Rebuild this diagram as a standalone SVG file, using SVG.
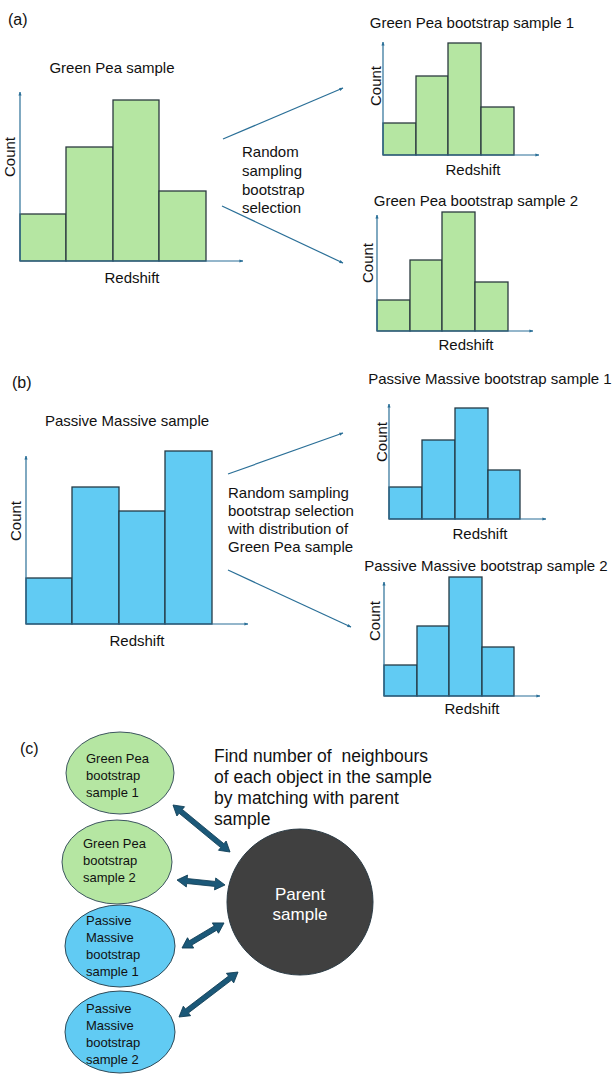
<svg xmlns="http://www.w3.org/2000/svg" width="616" height="1075" viewBox="0 0 616 1075">
<defs>
<style>
text{font-family:"Liberation Sans",Arial,sans-serif;fill:#111}
.t15{font-size:15px}
.t13{font-size:13px}
.lbl{font-size:16px}
.mid{text-anchor:middle}
.gbar{fill:#B5E6A2;stroke:#2b3a3f;stroke-width:1.3}
.bbar{fill:#61CBF3;stroke:#243a46;stroke-width:1.3}
.axis{stroke:#2a6f97;stroke-width:1.2;fill:none;marker-end:url(#ah)}
.conn{stroke:#2a6f97;stroke-width:1.2;fill:none;marker-end:url(#ah)}
.gel{fill:#B5E6A2;stroke:#3d5560;stroke-width:1}
.bel{fill:#61CBF3;stroke:#2f4a58;stroke-width:1}
.darr{fill:#1b5878;stroke:#0f3d55;stroke-width:0.8}
</style>
<marker id="ah" viewBox="0 0 10 10" refX="9" refY="5" markerWidth="4" markerHeight="4" orient="auto" markerUnits="userSpaceOnUse">
<path d="M0,1 L10,5 L0,9 Z" fill="#2a6f97"/>
</marker>
</defs>

<text class="lbl" x="8" y="25">(a)</text>
<text class="lbl" x="12" y="388">(b)</text>
<text class="lbl" x="20" y="754">(c)</text>

<g id="gp-sample">
<text class="t15 mid" x="112" y="73">Green Pea sample</text>
<rect class="gbar" x="20" y="214" width="46" height="47"/>
<rect class="gbar" x="66" y="147" width="47" height="114"/>
<rect class="gbar" x="113" y="100" width="46" height="161"/>
<rect class="gbar" x="159" y="191" width="47" height="70"/>
<path class="axis" d="M20,261 V92"/>
<path class="axis" d="M20,261 H243"/>
<text class="t15 mid" transform="translate(15,157) rotate(-90)">Count</text>
<text class="t15 mid" x="132" y="283">Redshift</text>
</g>

<g id="gp-boot1">
<text class="t15 mid" x="472" y="28">Green Pea bootstrap sample 1</text>
<rect class="gbar" x="383" y="123" width="33" height="32"/>
<rect class="gbar" x="416" y="76" width="32" height="79"/>
<rect class="gbar" x="448" y="43" width="33" height="112"/>
<rect class="gbar" x="481" y="107" width="33" height="48"/>
<path class="axis" d="M383,155 V42"/>
<path class="axis" d="M383,155 H539"/>
<text class="t15 mid" transform="translate(381,86) rotate(-90)">Count</text>
<text class="t15 mid" x="473" y="175">Redshift</text>
</g>

<g id="gp-boot2">
<text class="t15 mid" x="476" y="206">Green Pea bootstrap sample 2</text>
<rect class="gbar" x="377" y="300" width="33" height="31"/>
<rect class="gbar" x="410" y="260" width="32" height="71"/>
<rect class="gbar" x="442" y="212" width="33" height="119"/>
<rect class="gbar" x="475" y="282" width="33" height="49"/>
<path class="axis" d="M377,331 V215"/>
<path class="axis" d="M377,331 H533"/>
<text class="t15 mid" transform="translate(373,263) rotate(-90)">Count</text>
<text class="t15 mid" x="466" y="350">Redshift</text>
</g>

<g id="text-a">
<text class="t15" x="242" y="157">Random</text>
<text class="t15" x="242" y="176">sampling</text>
<text class="t15" x="242" y="195">bootstrap</text>
<text class="t15" x="242" y="213">selection</text>
</g>

<g id="pm-sample">
<text class="t15 mid" x="127" y="426">Passive Massive sample</text>
<rect class="bbar" x="26" y="578" width="46" height="46"/>
<rect class="bbar" x="72" y="487" width="47" height="137"/>
<rect class="bbar" x="119" y="511" width="46" height="113"/>
<rect class="bbar" x="165" y="451" width="47" height="173"/>
<path class="axis" d="M26,624 V456"/>
<path class="axis" d="M26,624 H248"/>
<text class="t15 mid" transform="translate(21,521) rotate(-90)">Count</text>
<text class="t15 mid" x="137" y="646">Redshift</text>
</g>

<g id="pm-boot1">
<text class="t15 mid" x="490" y="384">Passive Massive bootstrap sample 1</text>
<rect class="bbar" x="389" y="487" width="33" height="32"/>
<rect class="bbar" x="422" y="440" width="33" height="79"/>
<rect class="bbar" x="455" y="408" width="33" height="111"/>
<rect class="bbar" x="488" y="470" width="32" height="49"/>
<path class="axis" d="M389,519 V404"/>
<path class="axis" d="M389,519 H546"/>
<text class="t15 mid" transform="translate(387,442) rotate(-90)">Count</text>
<text class="t15 mid" x="480" y="539">Redshift</text>
</g>

<g id="pm-boot2">
<text class="t15 mid" x="486" y="571">Passive Massive bootstrap sample 2</text>
<rect class="bbar" x="384" y="665" width="33" height="31"/>
<rect class="bbar" x="417" y="626" width="32" height="70"/>
<rect class="bbar" x="449" y="577" width="33" height="119"/>
<rect class="bbar" x="482" y="647" width="32" height="49"/>
<path class="axis" d="M384,696 V582"/>
<path class="axis" d="M384,696 H540"/>
<text class="t15 mid" transform="translate(380,621) rotate(-90)">Count</text>
<text class="t15 mid" x="472" y="714">Redshift</text>
</g>

<g id="text-b">
<text class="t15" x="228" y="498">Random sampling</text>
<text class="t15" x="228" y="516">bootstrap selection</text>
<text class="t15" x="228" y="534">with distribution of</text>
<text class="t15" x="228" y="552">Green Pea sample</text>
</g>

<g id="node-gp1">
<ellipse class="gel" cx="120" cy="773" rx="54" ry="41"/>
<text class="t13" x="86" y="763">Green Pea</text>
<text class="t13" x="86" y="780">bootstrap</text>
<text class="t13" x="86" y="797">sample 1</text>
</g>
<g id="node-gp2">
<ellipse class="gel" cx="117" cy="862" rx="55" ry="42"/>
<text class="t13" x="83" y="848">Green Pea</text>
<text class="t13" x="83" y="865">bootstrap</text>
<text class="t13" x="83" y="882">sample 2</text>
</g>
<g id="node-pm1">
<ellipse class="bel" cx="120" cy="946" rx="55" ry="41"/>
<text class="t13" x="86" y="925">Passive</text>
<text class="t13" x="86" y="942">Massive</text>
<text class="t13" x="86" y="959">bootstrap</text>
<text class="t13" x="86" y="976">sample 1</text>
</g>
<g id="node-pm2">
<ellipse class="bel" cx="120" cy="1032" rx="55" ry="41"/>
<text class="t13" x="86" y="1013">Passive</text>
<text class="t13" x="86" y="1030">Massive</text>
<text class="t13" x="86" y="1047">bootstrap</text>
<text class="t13" x="86" y="1064">sample 2</text>
</g>
<g id="node-parent">
<circle cx="300" cy="902" r="73" fill="#404040" stroke="#2a3a44" stroke-width="1"/>
<text class="mid" x="300" y="900" style="font-size:17px;fill:#ffffff">Parent</text>
<text class="mid" x="300" y="920" style="font-size:17px;fill:#ffffff">sample</text>
</g>

<g id="text-c">
<text x="214" y="762" style="font-size:17.5px;white-space:pre" xml:space="preserve">Find number of  neighbours</text>
<text x="214" y="783" style="font-size:17.5px">of each object in the sample</text>
<text x="214" y="804" style="font-size:17.5px">by matching with parent</text>
<text x="214" y="825" style="font-size:17.5px">sample</text>
</g>

<g id="connectors">
<path class="conn" d="M223,139 L343,88"/>
<path class="conn" d="M222,206 L343,263"/>
<path class="conn" d="M228,474 L343,433"/>
<path class="conn" d="M228,570 L351,627"/>
<path class="darr" transform="translate(173,805) rotate(39.5)" d="M0,0 L10,-6 L10,-2.5 L63.9,-2.5 L63.9,-6 L73.9,0 L63.9,6 L63.9,2.5 L10,2.5 L10,6 Z"/>
<path class="darr" transform="translate(177,880) rotate(5.9)" d="M0,0 L10,-6 L10,-2.5 L38.3,-2.5 L38.3,-6 L48.3,0 L38.3,6 L38.3,2.5 L10,2.5 L10,6 Z"/>
<path class="darr" transform="translate(182,948) rotate(-30.8)" d="M0,0 L10,-6 L10,-2.5 L38.9,-2.5 L38.9,-6 L48.9,0 L38.9,6 L38.9,2.5 L10,2.5 L10,6 Z"/>
<path class="darr" transform="translate(179,1017) rotate(-37.3)" d="M0,0 L10,-6 L10,-2.5 L64.2,-2.5 L64.2,-6 L74.2,0 L64.2,6 L64.2,2.5 L10,2.5 L10,6 Z"/>
</g>
</svg>
